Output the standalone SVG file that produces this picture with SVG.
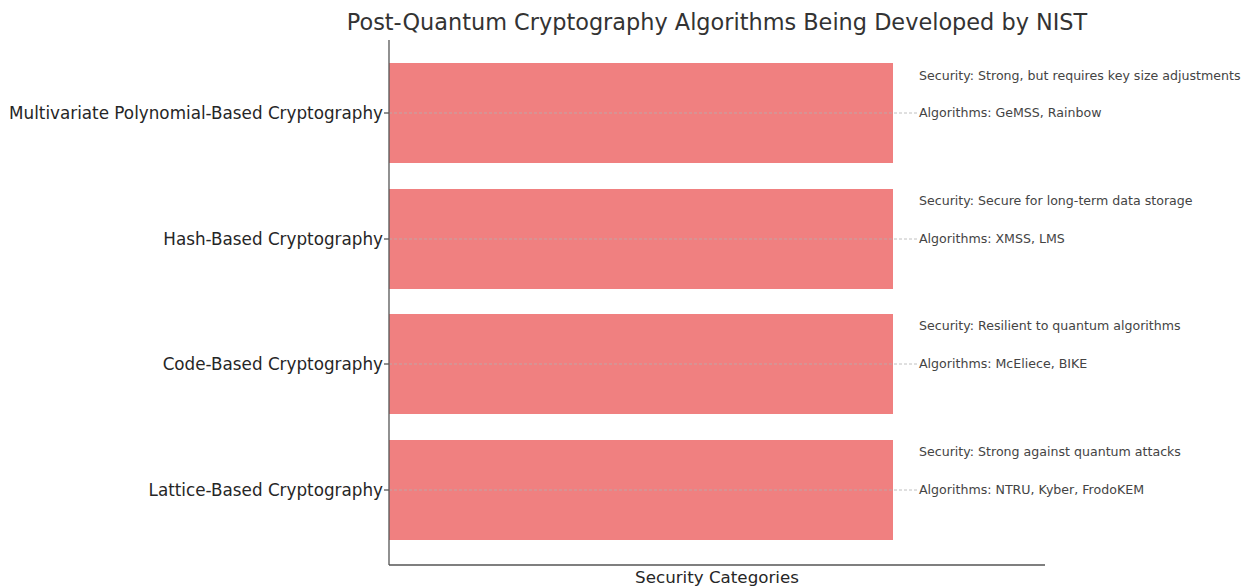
<svg xmlns="http://www.w3.org/2000/svg" width="1256" height="587" viewBox="0 0 1256 587">
<style>
text{font-family:"DejaVu Sans",sans-serif;}
.title{font-size:22.4px;fill:#333;}
.ylab{font-size:16.8px;fill:#262626;}
.xlab{font-size:16.7px;fill:#262626;}
.ann{font-size:12.6px;fill:#444;}
.bar{fill:#F08080;}
.grid{stroke:#b0b0b0;stroke-width:0.8;stroke-dasharray:3,2;fill:none;}
.spine{stroke:#555;stroke-width:1.3;fill:none;}
</style>
<rect width="1256" height="587" fill="#fff"/>
<text class="title" x="717" y="30" text-anchor="middle">Post-Quantum Cryptography Algorithms Being Developed by NIST</text>
<g id="bar-multivariate">
<rect class="bar" x="389" y="63" width="504" height="100"/>
<text class="ylab" x="383" y="119" text-anchor="end">Multivariate Polynomial-Based Cryptography</text>
<text class="ann" x="919" y="80">Security: Strong, but requires key size adjustments</text>
<text class="ann" x="919" y="117">Algorithms: GeMSS, Rainbow</text>
</g>
<g id="bar-hash">
<rect class="bar" x="389" y="189" width="504" height="100"/>
<text class="ylab" x="383" y="245" text-anchor="end">Hash-Based Cryptography</text>
<text class="ann" x="919" y="205">Security: Secure for long-term data storage</text>
<text class="ann" x="919" y="243">Algorithms: XMSS, LMS</text>
</g>
<g id="bar-code">
<rect class="bar" x="389" y="314" width="504" height="100"/>
<text class="ylab" x="383" y="370" text-anchor="end">Code-Based Cryptography</text>
<text class="ann" x="919" y="330">Security: Resilient to quantum algorithms</text>
<text class="ann" x="919" y="368">Algorithms: McEliece, BIKE</text>
</g>
<g id="bar-lattice">
<rect class="bar" x="389" y="440" width="504" height="100"/>
<text class="ylab" x="383" y="496" text-anchor="end">Lattice-Based Cryptography</text>
<text class="ann" x="919" y="456">Security: Strong against quantum attacks</text>
<text class="ann" x="919" y="494">Algorithms: NTRU, Kyber, FrodoKEM</text>
</g>
<g id="connectors">
<line class="grid" x1="389" y1="113" x2="917" y2="113"/>
<line class="grid" x1="389" y1="239" x2="917" y2="239"/>
<line class="grid" x1="389" y1="364" x2="917" y2="364"/>
<line class="grid" x1="389" y1="490" x2="917" y2="490"/>
<line class="spine" x1="384" y1="113" x2="389" y2="113"/>
<line class="spine" x1="384" y1="239" x2="389" y2="239"/>
<line class="spine" x1="384" y1="364" x2="389" y2="364"/>
<line class="spine" x1="384" y1="490" x2="389" y2="490"/>
<line class="spine" x1="389" y1="40" x2="389" y2="565"/>
<line class="spine" x1="389" y1="565" x2="1045" y2="565"/>
</g>
<text class="xlab" x="717" y="583" text-anchor="middle">Security Categories</text>
</svg>
